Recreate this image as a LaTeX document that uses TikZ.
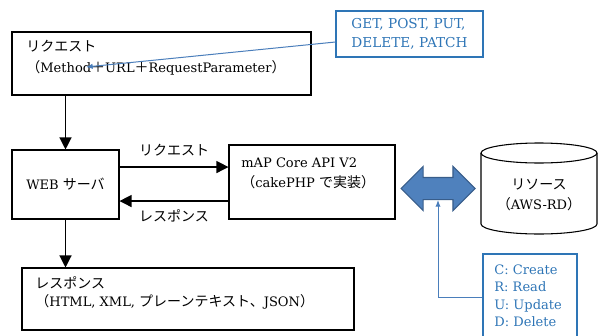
\documentclass[tikz,border=0pt]{standalone}
\usepackage{fontspec}
\setmainfont{DejaVu Serif}[Scale=0.93]
\newfontfamily\jp{Noto Sans CJK JP}
\usetikzlibrary{arrows.meta, shapes.arrows}

\definecolor{noteblue}{RGB}{46,117,182}
\definecolor{linkblue}{RGB}{74,126,187}
\definecolor{arrowfill}{RGB}{79,129,189}
\definecolor{arrowline}{RGB}{56,93,138}

\begin{document}
\begin{tikzpicture}[x=0.75pt, y=-0.75pt, font=\fontsize{10.5}{14}\selectfont,
  box/.style={draw, line width=0.8pt, inner sep=0pt},
  note/.style={draw=noteblue, line width=0.8pt, text=noteblue, inner sep=0pt},
  flow/.style={line width=0.9pt, -{Triangle[length=9pt, width=9pt]}},
  link/.style={linkblue, line width=0.75pt, -{Latex[length=5pt, width=4pt]}}]
  \useasboundingbox (0,0) rectangle (598,335);

  % request from the client
  \node[box, minimum width=224.25pt, minimum height=47.25pt] (req) at (161.5,63.5) {};
  \node[anchor=west, align=left] (reqtext) at (22,57.5)
    {{\jp リクエスト}\\[1.5pt]{\jp （}Method{\jp ＋}URL{\jp ＋}RequestParameter{\jp ）}};
  \coordinate (plus) at (86,67);

  % HTTP methods
  \node[note, minimum width=110.25pt, minimum height=34.5pt, align=left, font=\fontsize{11}{14}\selectfont] (methods) at (409.5,34)
    {GET, POST, PUT,\\DELETE, PATCH};

  % web server and API
  \node[box, minimum width=80.25pt, minimum height=51.75pt] (web) at (65.5,184.5) {WEB {\jp サーバ}};
  \node[box, minimum width=124.5pt, minimum height=55.5pt] (api) at (312,182) {};
  \node[anchor=west, align=left] (apitext) at (237,173)
    {mAP Core API V2\\[1pt]{\jp （}cakePHP {\jp で実装）}};

  % response to the client
  \node[box, minimum width=249pt, minimum height=46.5pt] (res) at (188,299) {};
  \node[anchor=west, align=left] (restext) at (31,293)
    {{\jp レスポンス}\\{\jp （}HTML, XML, {\jp プレーンテキスト、}JSON{\jp ）}};

  % resource store
  \draw[line width=0.8pt] (539,153) ellipse [x radius=43.5pt, y radius=7.5pt];
  \draw[line width=0.8pt] (481,153) -- (481,224)
    arc [start angle=180, end angle=360, x radius=43.5pt, y radius=7.5pt] -- (597,153);
  \node[align=center] (db) at (539,195) {{\jp リソース}\\[1pt]{\jp （}AWS-RD{\jp ）}};

  % two-way access
  \node[double arrow, fill=arrowfill, draw=arrowline, line width=0.8pt,
    minimum height=55.5pt, inner xsep=0pt, inner ysep=7.875pt,
    double arrow head extend=8.25pt, double arrow head indent=0pt] (dbl) at (438,188.5) {};

  % CRUD operations
  \node[note, minimum width=70.5pt, minimum height=64.5pt] (crud) at (530,297) {};
  \node[anchor=north west, align=left, text=noteblue, font=\fontsize{10.5}{13.1}\selectfont] (crudtext) at (490,260)
    {C: Create\\R: Read\\U: Update\\D: Delete};

  % connectors
  \draw[flow] (web.north |- req.south) -- (web.north);
  \draw[flow] (web.south) -- (web.south |- res.north);
  \draw[flow] ([yshift=13.1pt]web.east) -- ([yshift=13.1pt]web.east -| api.west)
    node[midway, above=5pt] {\jp リクエスト};
  \draw[flow] ([yshift=-12.4pt]web.east -| api.west) -- ([yshift=-12.4pt]web.east)
    node[midway, below=3pt] {\jp レスポンス};
  \draw[link] ([yshift=-6pt]methods.west) -- (plus);
  \draw[link] (crud.west) -| (dbl.south);
\end{tikzpicture}
\end{document}
